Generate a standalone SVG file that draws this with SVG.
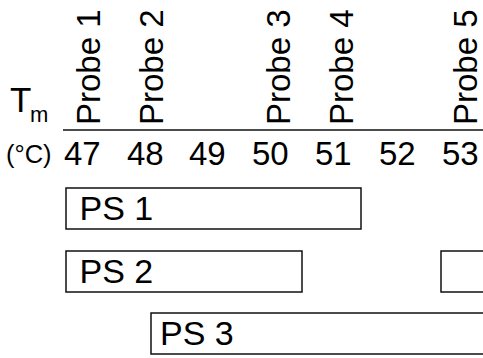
<svg xmlns="http://www.w3.org/2000/svg" width="483" height="358" viewBox="0 0 483 358">
<style>
text{font-family:"Liberation Sans",Arial,sans-serif;fill:#000}
.n{font-size:33px}
.p{font-size:33px}
.box{fill:#fff;stroke:#111;stroke-width:1.5}
.ps{font-size:34px}
</style>
<rect width="483" height="358" fill="#fff"/>
<g id="axis-label">
<text x="10" y="112" style="font-size:35px">T</text>
<text x="30" y="122" style="font-size:22px">m</text>
<text x="6" y="163" style="font-size:25.5px">(°C)</text>
</g>
<g id="probes">
<text class="p" transform="translate(100,125) rotate(-90)">Probe 1</text>
<text class="p" transform="translate(163,125) rotate(-90)">Probe 2</text>
<text class="p" transform="translate(290,125) rotate(-90)">Probe 3</text>
<text class="p" transform="translate(353,125) rotate(-90)">Probe 4</text>
<text class="p" transform="translate(477,125) rotate(-90)">Probe 5</text>
</g>
<g id="connectors">
<line x1="63" y1="130" x2="483" y2="130" stroke="#111" stroke-width="1.5"/>
</g>
<g id="scale">
<text class="n" x="64" y="165">47</text>
<text class="n" x="127" y="165">48</text>
<text class="n" x="189" y="165">49</text>
<text class="n" x="252" y="165">50</text>
<text class="n" x="315" y="165">51</text>
<text class="n" x="379" y="165">52</text>
<text class="n" x="442" y="165">53</text>
</g>
<g id="ps1">
<rect class="box" x="66" y="188" width="295" height="41"/>
<text class="ps" x="79.5" y="220">PS 1</text>
</g>
<g id="ps2">
<rect class="box" x="66" y="251" width="236" height="41"/>
<text class="ps" x="79.5" y="283">PS 2</text>
</g>
<g id="ps-right">
<rect class="box" x="441" y="251" width="60" height="41"/>
</g>
<g id="ps3">
<rect class="box" x="151" y="313" width="345" height="41"/>
<text class="ps" x="160" y="345">PS 3</text>
</g>
</svg>
